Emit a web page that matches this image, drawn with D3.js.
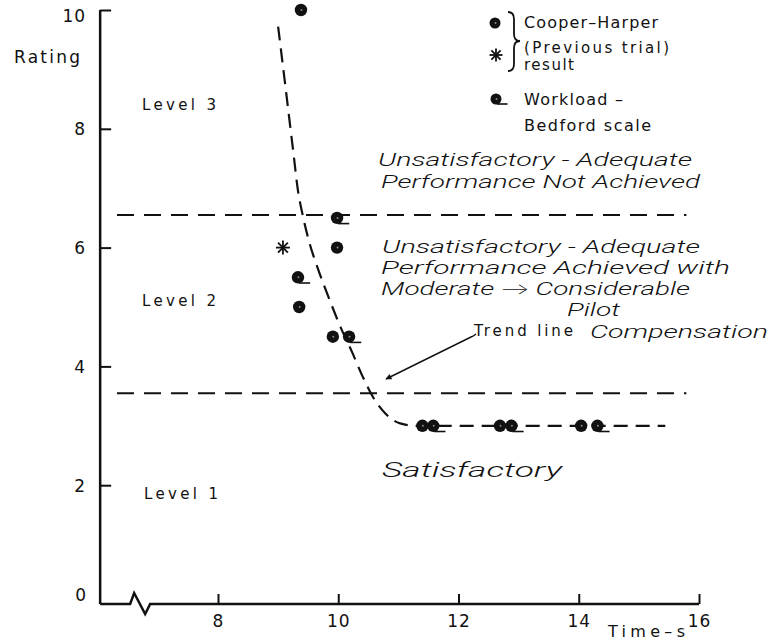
<!DOCTYPE html>
<html>
<head>
<meta charset="utf-8">
<script src="https://cdn.jsdelivr.net/npm/d3@7"></script>
<style>
  html, body { margin: 0; padding: 0; background: #fff; }
  svg { display: block; }
  .sans { font-family: "DejaVu Sans", sans-serif; fill: #111; }
  .hand { font-family: "Roboto", "Open Sans", "Lato", sans-serif; font-style: italic; font-weight: 300; fill: #111; }
</style>
</head>
<body>
<svg id="chart" width="776" height="642"></svg>
<script>
// ---------------- data ----------------
const timeTicks = [8, 10, 12, 14, 16];
const ratingTicks = [2, 4, 6, 8, 10];

// Cooper-Harper ratings (filled circles)
const chTime   = [9.38, 9.98, 9.35, 9.91, 11.40, 12.69, 14.04];
const chRating = [10, 6, 5, 4.5, 3, 3, 3];

// Previous trial result (asterisk)
const prevTime   = [9.08];
const prevRating = [6];

// Workload - Bedford scale (circle with tail)
const wlTime   = [9.98, 9.33, 10.18, 11.58, 12.88, 14.31];
const wlRating = [6.5, 5.5, 4.5, 3, 3, 3];

// Trend line
const trendTime   = [9.00, 9.13, 9.25, 9.33, 9.41, 9.51, 9.66, 9.86, 10.06, 10.23, 10.41, 10.58, 10.78, 11.03, 11.31, 15.44];
const trendRating = [9.72, 8.64, 7.63, 6.96, 6.54, 6.12, 5.65, 5.11, 4.61, 4.24, 3.82, 3.48, 3.21, 3.04, 3.0, 3.0];

// Level boundaries
const boundaryRating = [6.55, 3.55];
const boundaryTime = [6.32, 15.79];

const axisTimeMin = 6.04;

// ---------------- layout ----------------
const svg = d3.select("#chart");
const x = d3.scaleLinear().domain([8, 16]).range([218, 699]);
const y = d3.scaleLinear().domain([0, 10]).range([604, 10]);

const ink = "#111";

// boundary dashed lines
svg.selectAll("line.boundary").data(boundaryRating).join("line")
  .attr("class", "boundary")
  .attr("x1", x(boundaryTime[0])).attr("x2", x(boundaryTime[1]))
  .attr("y1", d => y(d)).attr("y2", d => y(d))
  .attr("stroke", ink).attr("stroke-width", 2)
  .attr("stroke-dasharray", "17 10");

// trend line
const trend = trendTime.map((t, i) => [t, trendRating[i]]);
svg.append("path")
  .attr("d", d3.line().x(d => x(d[0])).y(d => y(d[1])).curve(d3.curveMonotoneX)(trend))
  .attr("fill", "none").attr("stroke", ink).attr("stroke-width", 2.2)
  .attr("stroke-dasharray", "14 8");

// Y axis
const yAxis = d3.axisLeft(y).tickValues(ratingTicks).tickSizeInner(-11).tickSizeOuter(0).tickPadding(14)
  .tickFormat(d3.format("d"));
const gy = svg.append("g").attr("transform", `translate(${x(axisTimeMin)},0)`).call(yAxis);
gy.select(".domain").attr("stroke", ink).attr("stroke-width", 2.5)
  .attr("d", `M0,${y(0)}V${y(10)}`);
gy.selectAll(".tick line").attr("stroke", ink).attr("stroke-width", 2);
gy.selectAll(".tick text").attr("class", "sans").style("font-size", "17px")
  .style("letter-spacing", "1px").attr("dy", "0.35em");
gy.selectAll(".tick").filter(d => d === 10).select("text").attr("dy", "0.7em");
// "0" label
svg.append("text").attr("class", "sans")
  .attr("x", x(axisTimeMin) - 14).attr("y", y(0) - 3)
  .attr("text-anchor", "end").style("font-size", "17px").text("0");

// X axis
const xAxis = d3.axisBottom(x).tickValues(timeTicks).tickSizeInner(-10).tickSizeOuter(0).tickPadding(13)
  .tickFormat(d3.format("d"));
const gx = svg.append("g").attr("transform", `translate(0,${y(0)})`).call(xAxis);
gx.select(".domain").remove();
gx.selectAll(".tick line").attr("stroke", ink).attr("stroke-width", 2);
gx.selectAll(".tick text").attr("class", "sans").style("font-size", "17px")
  .style("letter-spacing", "1px").attr("dy", "0.6em");

// x-axis line with break
const x0 = x(axisTimeMin), yb = y(0);
svg.append("path")
  .attr("d", `M${x0},${yb}H${x0 + 30}L${x0 + 34},${yb - 11}L${x0 + 45},${yb + 10}L${x0 + 50},${yb}H${x(16)}`)
  .attr("fill", "none").attr("stroke", ink).attr("stroke-width", 2.5).attr("stroke-linejoin", "miter");

// axis titles
svg.append("text").attr("class", "sans").attr("x", 14).attr("y", 63)
  .attr("textLength", 66).attr("lengthAdjust", "spacing")
  .style("font-size", "17px").text("Rating");
svg.append("text").attr("class", "sans").attr("x", 608).attr("y", 637)
  .attr("textLength", 77).attr("lengthAdjust", "spacing")
  .style("font-size", "16px").text("Time\u2013s");

// level labels
const levels = [["Level 3", 142, 110], ["Level 2", 142, 306], ["Level 1", 144, 499]];
svg.selectAll("text.level").data(levels).join("text")
  .attr("class", "sans").attr("x", d => d[1]).attr("y", d => d[2])
  .attr("textLength", 74).attr("lengthAdjust", "spacing")
  .style("font-size", "15px").text(d => d[0]);

// markers
function circleMark(g, cx, cy, r) {
  g.append("circle").attr("cx", cx).attr("cy", cy).attr("r", r).attr("fill", ink);
  g.append("circle").attr("cx", cx + 0.5).attr("cy", cy).attr("r", 1).attr("fill", "#888");
}
function workloadMark(g, cx, cy, r) {
  circleMark(g, cx, cy, r);
  g.append("path")
    .attr("d", `M${cx + 1},${cy + r - 0.5}H${cx + r + 6}`)
    .attr("stroke", ink).attr("stroke-width", 1.6).attr("fill", "none");
}
function asteriskMark(g, cx, cy, r) {
  [0, 45, 90, 135].forEach(a => {
    const rad = a * Math.PI / 180;
    g.append("line")
      .attr("x1", cx - r * Math.cos(rad)).attr("y1", cy - r * Math.sin(rad))
      .attr("x2", cx + r * Math.cos(rad)).attr("y2", cy + r * Math.sin(rad))
      .attr("stroke", ink).attr("stroke-width", 1.8);
  });
}

const gm = svg.append("g");
chTime.forEach((t, i) => circleMark(gm, x(t), y(chRating[i]), 6.2));
wlTime.forEach((t, i) => workloadMark(gm, x(t), y(wlRating[i]), 6.2));
prevTime.forEach((t, i) => asteriskMark(gm, x(t), y(prevRating[i]), 7));

// legend
const gl = svg.append("g");
circleMark(gl, 495, 23, 5.5);
asteriskMark(gl, 496, 55, 6.5);
workloadMark(gl, 496, 99, 5.5);
gl.append("path")
  .attr("d", "M508,12 Q514,12 514,19 V34 Q514,41 520,41 Q514,41 514,48 V64 Q514,71 508,71")
  .attr("fill", "none").attr("stroke", ink).attr("stroke-width", 1.8);
const legendText = [["Cooper\u2013Harper", 28, 134, 16], ["(Previous trial)", 53, 145, 15], ["result", 70, 50, 15],
                    ["Workload \u2013", 105, 99, 16], ["Bedford scale", 131, 127, 16]];
gl.selectAll("text").data(legendText).join("text")
  .attr("class", "sans").attr("x", 524).attr("y", d => d[1])
  .attr("textLength", d => d[2]).attr("lengthAdjust", "spacing")
  .style("font-size", d => d[3] + "px").text(d => d[0]);

// handwritten annotations: [text, x, baseline y, width, font size]
const hand = [
  ["Unsatisfactory - Adequate", 378, 166, 314, 17.5],
  ["Performance Not Achieved", 381, 188, 319, 17.5],
  ["Unsatisfactory - Adequate", 382, 253, 318, 17.5],
  ["Performance Achieved with", 381, 274, 349, 17.5],
  ["Moderate \u2192 Considerable", 381, 295, 309, 17.5],
  ["Pilot", 567, 316, 53, 17.5],
  ["Compensation", 590, 338, 178, 17.5],
  ["Satisfactory", 382, 477, 180, 21]
];
svg.selectAll("text.hand").data(hand).join("text")
  .attr("class", "hand").attr("x", d => d[1]).attr("y", d => d[2])
  .attr("textLength", d => d[3]).attr("lengthAdjust", "spacingAndGlyphs")
  .style("font-size", d => d[4] + "px").text(d => d[0]);

// trend line annotation
svg.append("text").attr("class", "sans").attr("x", 474).attr("y", 336)
  .attr("textLength", 99).attr("lengthAdjust", "spacing")
  .style("font-size", "15px").text("Trend line");

svg.append("defs").append("marker")
  .attr("id", "arrow").attr("viewBox", "0 0 10 10").attr("refX", 9).attr("refY", 5)
  .attr("markerWidth", 9).attr("markerHeight", 6).attr("orient", "auto")
  .attr("markerUnits", "userSpaceOnUse")
  .append("path").attr("d", "M0,0 L10,5 L0,10 Z").attr("fill", ink);
svg.append("path")
  .attr("d", "M476,334 Q474,336 471,337 L386,379")
  .attr("fill", "none").attr("stroke", ink).attr("stroke-width", 1.4)
  .attr("marker-end", "url(#arrow)");
</script>
</body>
</html>
